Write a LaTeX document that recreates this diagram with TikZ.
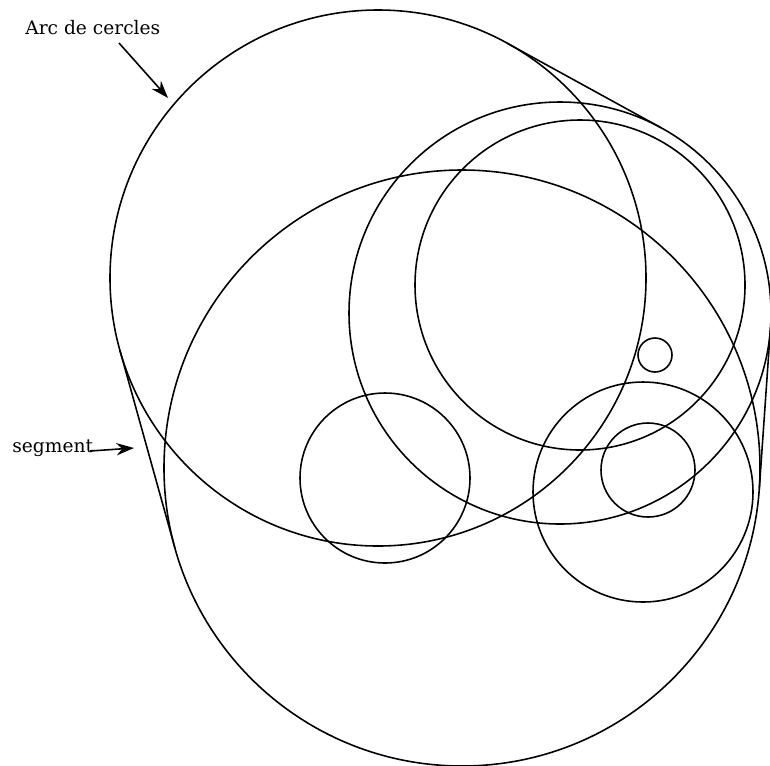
\documentclass[tikz,border=0pt]{standalone}
\usepackage{fontspec}
\setmainfont{DejaVu Serif}
\usetikzlibrary{arrows.meta}

\begin{document}
\begin{tikzpicture}[
  x=0.02cm, y=-0.02cm,
  cercle/.style={draw, line width=0.9pt},
  segm/.style={draw, line width=0.9pt},
  etiquette/.style={font=\fontsize{10.6}{12}\selectfont, inner sep=0pt, anchor=base west},
  fleche/.style={-{Stealth[length=10pt, width=7pt]}, line width=0.9pt}
]
\useasboundingbox (0,0) rectangle (770,765);

% centres
\coordinate (A) at (378,278);
\coordinate (B) at (462,468);
\coordinate (C) at (560,313);
\coordinate (D) at (580,285);
\coordinate (E) at (655,355);
\coordinate (F) at (385,478);
\coordinate (G) at (643,492);
\coordinate (H) at (648,470);

\foreach \c/\r in {A/268, B/298, C/211, D/165, E/17, F/85, G/110, H/47}
  \draw[cercle] (\c) circle[radius=\r];

% points de contact des segments
\coordinate (tAB1) at (119.8,349.9);
\coordinate (tAB2) at (174.9,547.9);
\coordinate (tAC1) at (507.1,43.2);
\coordinate (tAC2) at (661.7,128.1);
\coordinate (tCB1) at (770.5,327.6);
\coordinate (tCB2) at (759.3,488.7);

\draw[segm] (tAB1) -- (tAB2);
\draw[segm] (tAC1) -- (tAC2);
\draw[segm] (tCB1) -- (tCB2);

\node[etiquette] (arc) at (25,34) {Arc de cercles};
\node[etiquette] (seg) at (12,452) {segment};

\coordinate (arcqueue) at (119,43);
\coordinate (arcpointe) at (168,98);
\coordinate (segqueue) at (90,451);
\coordinate (segpointe) at (134,448);

\draw[fleche] (arcqueue) -- (arcpointe);
\draw[fleche] (segqueue) -- (segpointe);

\end{tikzpicture}
\end{document}
